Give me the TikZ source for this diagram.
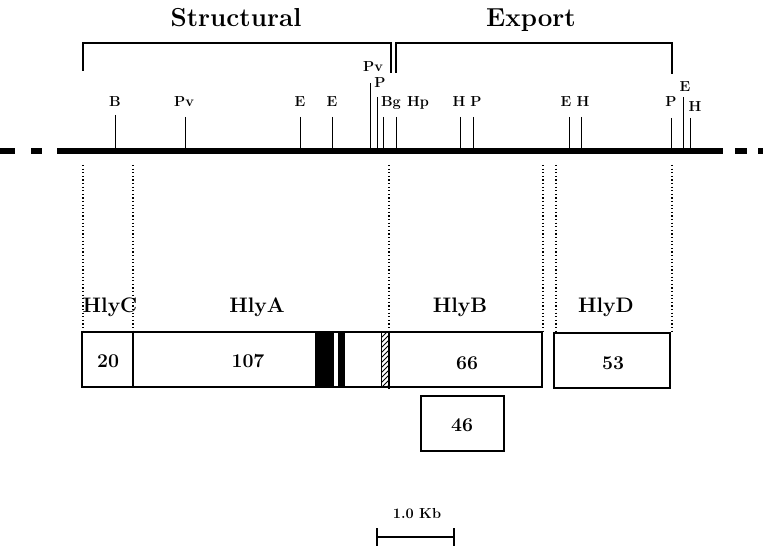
\documentclass[tikz,border=0pt]{standalone}
\usepackage{fontspec}
\begin{document}
\begin{tikzpicture}[x=1pt,y=-1pt,
  site/.style={font=\fontsize{14.5}{14.5}\selectfont\bfseries, inner sep=0pt, anchor=base},
  gene/.style={font=\fontsize{21}{21}\selectfont\bfseries, inner sep=0pt, anchor=base},
  num/.style={font=\fontsize{19.5}{19.5}\selectfont\bfseries, inner sep=0pt, anchor=base},
  ttl/.style={font=\fontsize{26}{26}\selectfont\bfseries, inner sep=0pt, anchor=base},
  tick/.style={line width=1pt},
  brk/.style={line width=1.2pt},
  box/.style={draw, line width=1.3pt},
  guide/.style={line width=1.4pt, dash pattern=on 1.2pt off 2.4pt},
  dna/.style={line width=5.5pt},
]
\useasboundingbox (0,0) rectangle (763,548);

% titles and brackets
\node[ttl] (tstruct) at (236,27) {Structural};
\node[ttl] (texport) at (531,27) {Export};
\draw[brk] (83,71) -- (83,43) -- (391,43) -- (391,73);
\draw[brk] (396,73) -- (396,43) -- (672,43) -- (672,74);

% DNA line
\draw[dna] (57,151) -- (723,151);
\draw[dna] (0,151) -- (15,151);
\draw[dna] (31,151) -- (42,151);
\draw[dna] (735,151) -- (747,151);
\draw[dna] (758,151) -- (763,151);

% restriction site ticks
\foreach \x/\t in {115/115,185/117,300/117,332/117,370/83,377/97,383/117,396/117,460/117,473/117,569/117,581/117,671/118,683/97,690/118}
  \draw[tick] (\x,\t) -- (\x,148);

% site labels
\node[site] (s1) at (115,107) {B};
\node[site] (s2) at (184,107) {Pv};
\node[site] (s3) at (300,107) {E};
\node[site] (s4) at (332,107) {E};
\node[site] (s5) at (373,72) {Pv};
\node[site] (s6) at (380,88) {P};
\node[site] (s7) at (391,107) {Bg};
\node[site] (s8) at (418,107) {Hp};
\node[site] (s9) at (459,107) {H};
\node[site] (s10) at (476,107) {P};
\node[site] (s11) at (566,107) {E};
\node[site] (s12) at (583,107) {H};
\node[site] (s13) at (671,107) {P};
\node[site] (s14) at (685,92) {E};
\node[site] (s15) at (695,112) {H};

% guide lines
\foreach \x in {83,133,389,543,556,672}
  \draw[guide] (\x,165) -- (\x,332);

% gene labels
\node[gene] (gC) at (110,312) {HlyC};
\node[gene] (gA) at (257,312) {HlyA};
\node[gene] (gB) at (460,312) {HlyB};
\node[gene] (gD) at (606,312) {HlyD};

% boxes
\draw[box] (82,332) rectangle (542,387);
\draw[box] (133,332) -- (133,387);
\fill (315,332) rectangle (334,387);
\fill (338,332) rectangle (345,387);
\begin{scope}
  \clip (381,332) rectangle (388,387);
  \foreach \k in {0,...,12}
    \draw[line width=0.8pt] (379,340+5*\k) -- (391,328+5*\k);
\end{scope}
\draw[line width=1pt] (381,332) -- (381,387);
\draw[line width=2pt] (389,332) -- (389,389);
\draw[box] (554,333) rectangle (670,388);
\draw[box] (421,396) rectangle (504,451);

% numbers
\node[num] (n20) at (108,367) {20};
\node[num] (n107) at (248,367) {107};
\node[num] (n66) at (467,369) {66};
\node[num] (n53) at (613,369) {53};
\node[num] (n46) at (462,431) {46};

% scale bar
\node[site] (scl) at (417,518) {1.0 Kb};
\coordinate (sa) at (377,537);
\coordinate (sb) at (454,537);
\draw[line width=1.3pt] (sa) -- (sb);
\draw[line width=1.6pt] (377,528) -- (377,546);
\draw[line width=1.6pt] (454,528) -- (454,546);
\end{tikzpicture}
\end{document}
